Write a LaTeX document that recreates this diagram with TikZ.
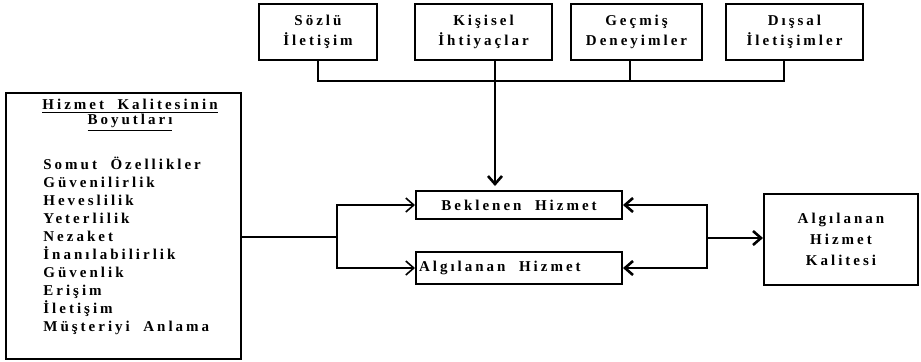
\documentclass[tikz,border=0pt]{standalone}
\usepackage{fontspec}
\setmainfont{Liberation Serif}[LetterSpace=20,WordSpace=2]
\usetikzlibrary{arrows.meta}

\begin{document}
\begin{tikzpicture}[x=0.5pt,y=-0.5pt,
  >={Straight Barb[length=4pt,width=7pt]},
  kutu/.style={draw,line width=1pt,inner sep=0pt,align=center,font=\bfseries\fontsize{7.5}{10}\selectfont},
  yazi/.style={inner sep=0pt,font=\bfseries\fontsize{7.5}{9}\selectfont},
  ince/.style={line width=0.8pt},
  kalin/.style={line width=1.3pt}]
  \useasboundingbox (0,0) rectangle (921,361);
  % ust kutular
  \node[kutu,minimum width=59pt,minimum height=28pt] (sozlu) at (318,32) {Sözlü\\İletişim};
  \node[kutu,minimum width=68.5pt,minimum height=28pt] (kisisel) at (483.5,32) {Kişisel\\İhtiyaçlar};
  \node[kutu,minimum width=65.5pt,minimum height=28pt] (gecmis) at (636.5,32) {Geçmiş\\Deneyimler};
  \node[kutu,minimum width=68.5pt,minimum height=28pt] (dissal) at (794.5,32) {Dışsal\\İletişimler};
  \coordinate (b1) at (318,81);
  \coordinate (b2) at (495,81);
  \coordinate (b3) at (630,81);
  \coordinate (b4) at (784,81);
  % orta kutular
  \node[kutu,minimum width=103pt,minimum height=14pt] (beklenen) at (519,205) {Beklenen Hizmet};
  \node[kutu,text width=100pt,inner xsep=1.5pt,align=left,minimum height=16pt] (algilanan) at (519,268) {{\spaceskip=0pt\relax Algılanan Hizmet}};
  \node[kutu,minimum width=77pt,minimum height=45.5pt,font=\bfseries\fontsize{7.5}{10.5}\selectfont] (kalite) at (841,239.5) {Algılanan\\Hizmet\\Kalitesi};
  % boyutlar kutusu
  \node[kutu,minimum width=117.5pt,minimum height=133pt] (boyut) at (123.5,226) {};
  \node[yazi,align=center] (baslik) at (130,115) {\underline{Hizmet Kalitesinin}\\[-1.5pt]\underline{Boyutları}};
  \foreach \t [count=\i] in {Somut Özellikler,Güvenilirlik,Heveslilik,Yeterlilik,Nezaket,İnanılabilirlik,Güvenlik,Erişim,İletişim,Müşteriyi Anlama}
    \node[yazi,anchor=base west] (madde\i) at (43,{151+18*\i}) {\t};
  \coordinate (sol) at (337,237);
  \coordinate (sag) at (707,238);
  % baglantilar
  \draw[ince] (b1|-sozlu.south) -- (b1) -- (b4) -- (b4|-dissal.south);
  \draw[ince] (b3|-gecmis.south) -- (b3);
  \draw[kalin,->,shorten >=2pt] (b2|-kisisel.south) -- (b2|-beklenen.north);
  \draw[ince] (boyut.east|-sol) -- (sol);
  \draw[ince,->] (sol) |- (beklenen.west);
  \draw[ince,->] (sol) |- (algilanan.west);
  \draw[kalin,->] (sag) |- (beklenen.east);
  \draw[kalin,->] (sag) |- (algilanan.east);
  \draw[kalin,->] (sag) -- (sag-|kalite.west);
\end{tikzpicture}
\end{document}
